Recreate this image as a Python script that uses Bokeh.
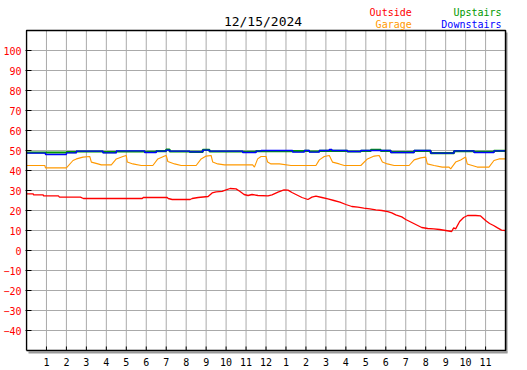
from bokeh.plotting import figure
from bokeh.models import Range1d, FixedTicker, ColumnDataSource
from bokeh.core.properties import value
from bokeh.embed import file_html
from bokeh.resources import INLINE

TITLE = "12/15/2024"
SERIES_NAMES = ["Outside", "Garage", "Upstairs", "Downstairs"]
SERIES_COLORS = ["#ff0000", "#ff9900", "#009900", "#0000ff"]

HOUR_TICKS = list(range(1, 24))
HOUR_LABELS = [str(h) for h in range(1, 12)] + ["12"] + [str(h) for h in range(1, 12)]
Y_TICKS = list(range(-40, 101, 10))

outside_t = [0, 0.34, 0.35, 0.84, 0.85, 1.6, 1.65, 2.7, 2.85, 5.8, 5.85, 7.05, 7.1, 7.3, 8.2,
             8.3, 8.6, 9.1, 9.3, 9.5, 9.8, 10.0, 10.2, 10.5, 10.7, 10.9, 11.1, 11.3, 11.6, 12.1,
             12.3, 12.6, 12.9, 13.1, 13.3, 13.5, 13.8, 14.1, 14.3, 14.5, 14.8, 15.1, 15.4, 15.7,
             16.0, 16.3, 16.6, 16.9, 17.2, 17.5, 17.8, 18.1, 18.3, 18.5, 18.8, 19.0, 19.3, 19.6,
             19.8, 20.1, 20.4, 20.7, 21.0, 21.3, 21.4, 21.5, 21.7, 21.9, 22.1, 22.5, 22.75, 23.0,
             23.2, 23.4, 23.6, 23.8, 24.0]
outside_v = [28.3, 28.3, 27.8, 27.8, 27.3, 27.3, 26.7, 26.7, 26.0, 26.0, 26.5, 26.5, 26.0, 25.5, 25.5,
             26.0, 26.5, 27.0, 28.8, 29.3, 29.6, 30.3, 31.0, 30.8, 29.5, 28.0, 27.5, 28.0, 27.5, 27.3,
             27.8, 29.2, 30.3, 30.2, 29.0, 28.0, 26.5, 25.5, 26.7, 27.2, 26.5, 25.8, 25.0, 24.2,
             23.0, 22.0, 21.7, 21.2, 20.8, 20.3, 20.0, 19.4, 18.8, 17.8, 16.8, 15.5, 14.0, 12.5,
             11.5, 11.0, 10.8, 10.5, 10.0, 9.5, 11.3, 10.8, 14.5, 16.5, 17.5, 17.5, 17.3, 15.0,
             13.5, 12.5, 11.3, 10.2, 10.0]

garage_t = [0, 0.92, 0.95, 2.0, 2.33, 2.5, 2.83, 3.17, 3.25, 3.58, 3.75, 4.25, 4.5, 4.83, 5.0,
            5.05, 5.33, 5.75, 6.33, 6.58, 6.92, 7.0, 7.08, 7.42, 7.75, 8.5, 8.75, 9.0, 9.25,
            9.33, 9.58, 9.92, 11.33, 11.42, 11.58, 11.75, 12.0, 12.08, 12.25, 12.67, 13.25, 14.5,
            14.67, 14.92, 15.17, 15.33, 15.67, 15.92, 16.75, 17.08, 17.42, 17.67, 17.83, 18.08,
            18.42, 19.17, 19.42, 19.75, 20.0, 20.08, 20.42, 20.83, 21.17, 21.25, 21.5, 21.75,
            22.0, 22.08, 22.33, 22.58, 23.17, 23.42, 23.67, 24.0]
garage_v = [42.5, 42.5, 41.3, 41.3, 45.0, 45.8, 46.7, 47.0, 44.2, 43.3, 42.8, 42.8, 45.8, 47.0, 47.5,
            44.2, 43.3, 42.5, 42.5, 45.8, 47.2, 47.5, 44.5, 43.3, 42.5, 42.5, 45.8, 47.2, 47.5,
            44.2, 43.3, 42.8, 42.8, 41.7, 45.8, 47.0, 47.0, 44.2, 43.3, 43.3, 42.5, 42.5,
            45.3, 47.0, 47.5, 44.2, 43.3, 42.5, 42.5, 45.8, 47.2, 47.5, 44.2, 43.3,
            42.5, 42.5, 45.3, 46.3, 46.7, 43.3, 42.5, 41.7, 41.7, 40.8, 44.2, 45.3,
            46.7, 43.3, 42.5, 41.7, 41.7, 45.0, 45.8, 45.8]

upstairs_t = [0, 2.0, 2.5, 3.83, 4.5, 5.92, 6.5, 7.0, 7.17, 8.17, 8.83, 9.17, 10.83, 11.5, 13.92,
              14.17, 14.67, 16.08, 16.75, 17.25, 17.75, 18.25, 19.42, 20.25, 21.42, 22.42, 23.42, 24]
upstairs_v = [49.0, 49.2, 49.5, 49.2, 49.5, 49.3, 49.7, 50.5, 49.5, 49.3, 50.3, 49.5, 49.3, 49.7, 49.8,
              49.5, 49.8, 49.5, 49.8, 50.3, 49.8, 49.2, 49.8, 48.7, 49.7, 49.3, 49.8, 49.8]

downstairs_t = [0, 0.95, 2.0, 2.5, 3.83, 4.5, 5.92, 6.5, 7.0, 7.17, 8.17, 8.83, 9.17, 10.83, 11.5,
                11.75, 13.33, 13.92, 14.17, 14.67, 15.17, 15.3, 16.08, 16.75, 18.25, 19.42, 20.25,
                21.42, 22.42, 23.42, 24]
downstairs_v = [48.7, 48.0, 48.8, 49.7, 48.8, 49.8, 49.0, 49.7, 50.2, 49.7, 49.3, 50.2, 49.7, 49.0, 49.7,
                50.0, 49.2, 50.0, 49.2, 50.0, 50.5, 50.0, 49.5, 50.0, 49.0, 50.0, 48.7,
                49.8, 49.0, 49.8, 50.2]

# ---- layout helpers (canvas pixel -> data units) ----
X_MIN, X_MAX = 0, 24
Y_MIN, Y_MAX = -50, 110
PX_H = 20.0             # pixels per hour
PX_V = 2.0              # pixels per degree
HX0 = 25                # canvas x of hour 0
VY0 = 30                # canvas y of value 110
W, H = 527, 370
LEFT = 24


def hx(px):
    return (px - HX0) / PX_H


def vy(py):
    return Y_MAX - (py - VY0) / PX_V


FONT = value("DejaVu Sans Mono")

p = figure(width=W, height=H,
           x_range=Range1d(hx(LEFT), hx(W)),
           y_range=Range1d(vy(H), vy(0)),
           output_backend="svg", toolbar_location=None,
           x_axis_location=None,
           min_border_left=LEFT, min_border_right=0,
           min_border_top=0, min_border_bottom=0)
p.outline_line_color = None
p.background_fill_color = "white"
p.border_fill_color = "white"
for g in p.grid:
    g.visible = False

ax = p.yaxis[0]
ax.ticker = FixedTicker(ticks=Y_TICKS)
ax.axis_line_color = None
ax.major_tick_in = 6
ax.major_tick_out = 0
ax.minor_tick_line_color = None
ax.major_tick_line_color = "black"
ax.major_label_standoff = 4
ax.major_label_text_color = "#ff0000"
ax.major_label_text_font = "DejaVu Sans Mono"
ax.major_label_text_font_size = "10px"

GRID = "#aaaaaa"
# grid lines
p.segment(x0=HOUR_TICKS, x1=HOUR_TICKS, y0=[Y_MIN] * len(HOUR_TICKS), y1=[Y_MAX] * len(HOUR_TICKS),
          line_color=GRID, line_width=1)
p.segment(x0=[X_MIN] * len(Y_TICKS), x1=[X_MAX] * len(Y_TICKS), y0=Y_TICKS, y1=Y_TICKS,
          line_color=GRID, line_width=1)

# bottom tick marks
p.segment(x0=HOUR_TICKS, x1=HOUR_TICKS, y0=[Y_MIN] * len(HOUR_TICKS),
          y1=[Y_MIN + 4 / PX_V] * len(HOUR_TICKS), line_color="black", line_width=1)

# data series
p.step(upstairs_t, upstairs_v, mode="after", line_color=SERIES_COLORS[2], line_width=2.2)
p.step(downstairs_t, downstairs_v, mode="after", line_color=SERIES_COLORS[3], line_width=1.4)
p.line(garage_t, garage_v, line_color=SERIES_COLORS[1], line_width=1.1)
p.line(outside_t, outside_v, line_color=SERIES_COLORS[0], line_width=1.3)

# shadow and frame
p.line([hx(506), hx(506)], [vy(32), vy(352)], line_color="#999999", line_width=2)
p.line([hx(27), hx(507)], [vy(352), vy(352)], line_color="#999999", line_width=2)
p.line([X_MIN, X_MAX, X_MAX, X_MIN, X_MIN], [Y_MIN, Y_MIN, Y_MAX, Y_MAX, Y_MIN],
       line_color="black", line_width=1.5)

# x tick labels
p.text(x=HOUR_TICKS, y=[vy(361.5)] * len(HOUR_TICKS), text=HOUR_LABELS,
       text_font=FONT, text_font_size=value("10px"), text_color="black",
       text_align="center", text_baseline="middle")

# title
p.text(x=[hx(262)], y=[vy(20.5)], text=[TITLE], text_font=FONT, text_font_size=value("13px"),
       text_color="black", text_align="center", text_baseline="middle")

# legend texts
leg = ColumnDataSource(dict(
    x=[hx(411), hx(411), hx(501), hx(501)],
    y=[vy(11.5), vy(23.5), vy(11.5), vy(23.5)],
    text=SERIES_NAMES,
    color=SERIES_COLORS,
))
p.text(x="x", y="y", text="text", text_color="color", source=leg, text_font=FONT,
       text_font_size=value("10px"), text_align="right", text_baseline="middle")

open("out.html", "w").write(file_html(p, INLINE))
